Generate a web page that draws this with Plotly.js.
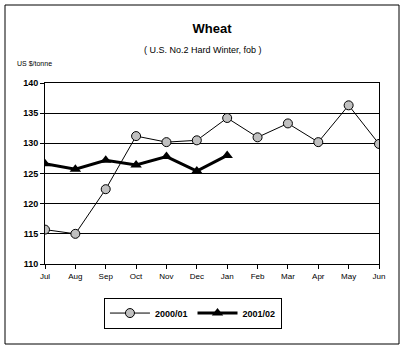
<!DOCTYPE html>
<html><head><meta charset="utf-8">
<script src="https://cdn.plot.ly/plotly-3.0.1.min.js"></script>
<style>html,body{margin:0;padding:0;background:#fff}#c{width:405px;height:355px}</style>
</head><body><div id="c"></div>
<script>
const months = ["Jul","Aug","Sep","Oct","Nov","Dec","Jan","Feb","Mar","Apr","May","Jun"];
const s2000 = [115.7,115.0,122.4,131.2,130.2,130.5,134.2,131.0,133.3,130.2,136.3,129.9];
const s2001 = [126.6,125.7,127.2,126.4,127.8,125.4,128.0];
const yTicks = [110,115,120,125,130,135,140];

const F = "Arial, 'Liberation Sans', sans-serif";
const traces = [
  {x: months, y: s2000, name: "2000/01", type: "scatter", mode: "lines+markers",
   line: {color: "#000", width: 1},
   marker: {symbol: "circle", size: 9, color: "#c0c0c0", line: {color: "#000", width: 1}}},
  {x: months.slice(0, s2001.length), y: s2001, name: "2001/02", type: "scatter", mode: "lines+markers",
   line: {color: "#000", width: 3},
   marker: {symbol: "triangle-up", size: 10, color: "#000"}}
];
const layout = {
  width: 405, height: 355,
  margin: {l: 45, r: 26, t: 83, b: 91},
  paper_bgcolor: "#fff", plot_bgcolor: "#fff",
  font: {family: F, color: "#000"},
  showlegend: true,
  title: {text: "<b>Wheat</b>", font: {size: 13, family: F}, x: 0.5, xref: "paper", y: 1 - 28/355, yref: "container", yanchor: "middle"},
  xaxis: {type: "category", range: [0, 11], showgrid: false, zeroline: false,
    showline: true, linecolor: "#000", linewidth: 1, mirror: true,
    ticks: "outside", ticklen: 4, tickcolor: "#000",
    tickfont: {size: 8, family: F}, fixedrange: true},
  yaxis: {range: [110, 140], tickvals: yTicks, ticktext: yTicks.map(String),
    showgrid: true, gridcolor: "#000", gridwidth: 1, zeroline: false,
    showline: true, linecolor: "#000", linewidth: 1, mirror: true,
    ticks: "outside", ticklen: 4, tickcolor: "#000",
    tickfont: {size: 9, family: F, weight: "bold"}, fixedrange: true},
  legend: {orientation: "h", x: 0.443, y: -0.271, xanchor: "center", yanchor: "middle",
    bordercolor: "#000", borderwidth: 1, bgcolor: "#fff",
    font: {size: 9, family: F, weight: "bold"}, itemwidth: 40},
  annotations: [
    {text: "( U.S. No.2 Hard Winter, fob )", xref: "paper", yref: "paper",
     x: (203-45)/334, y: (264-50)/181, showarrow: false, font: {size: 9, family: F}, xanchor: "center", yanchor: "middle"},
    {text: "US $/tonne", xref: "paper", yref: "paper",
     x: (15-45)/334, y: (264-63)/181, showarrow: false, font: {size: 7, family: F}, xanchor: "left", yanchor: "middle"}
  ],
  shapes: [
    {type: "rect", xref: "paper", yref: "paper",
     x0: (5-45)/334, x1: (399-45)/334, y0: (264-344)/181, y1: (264-5)/181,
     line: {color: "#000", width: 1}, fillcolor: "rgba(0,0,0,0)", layer: "below"}
  ]
};
Plotly.newPlot("c", traces, layout, {displayModeBar: false, staticPlot: true});
</script></body></html>
